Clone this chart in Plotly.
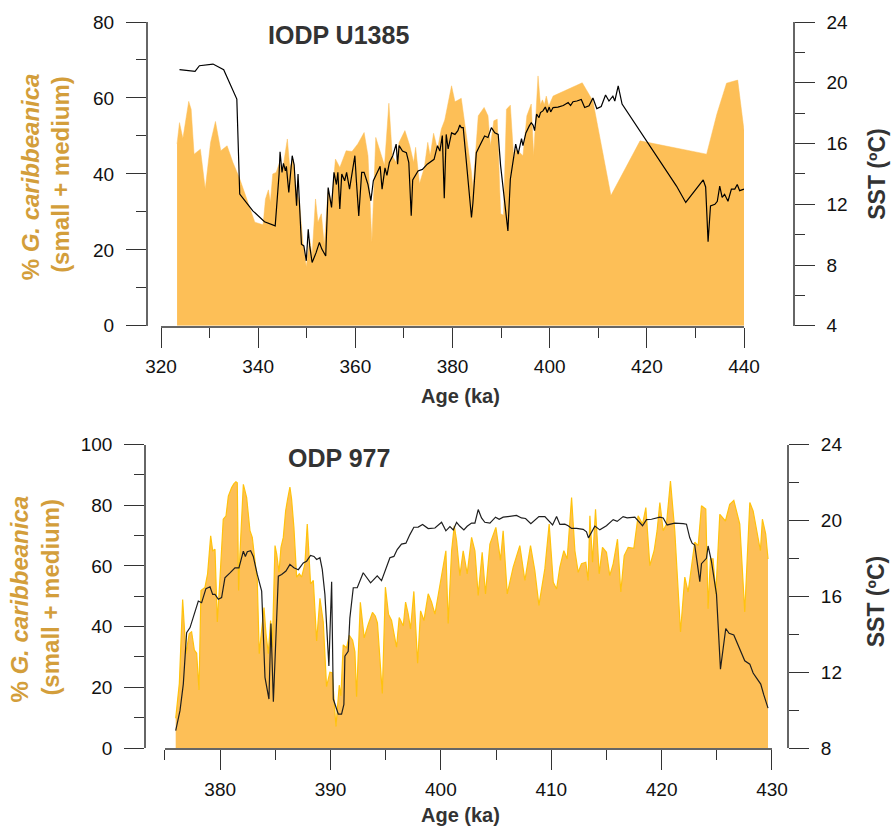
import plotly.graph_objects as go

# ---------------- IODP U1385 ----------------
u1385_gc_age = [323.3, 323.8, 324.5, 325.7, 326.2, 326.8, 328.1, 329.1, 330.2, 331.2, 332.3, 333.6,
                334.8, 336.2, 339.3, 341.0, 341.5, 342.1, 342.5, 343.0, 343.7, 344.4, 344.9, 346.0,
                346.5, 347.2, 347.8, 348.5, 349.2, 349.9, 350.6, 351.1, 351.8, 352.3, 353.0, 353.6,
                354.4, 355.1, 355.9, 356.8, 358.1, 359.3, 360.5, 361.8, 362.6, 363.4, 364.2, 365.3,
                366.0, 366.9, 367.6, 368.4, 369.0, 370.2, 371.2, 372.0, 372.4, 373.2, 374.2, 374.9,
                375.4, 376.1, 376.9, 377.7, 378.4, 379.8, 380.5, 381.8, 382.9, 383.9, 384.2, 385.3,
                386.5, 387.3, 387.8, 388.5, 389.2, 389.9, 390.5, 391.1, 391.9, 392.6, 393.1, 394.5,
                395.3, 396.2, 396.7, 397.6, 398.1, 398.5, 398.9, 399.3, 399.8, 400.7, 406.7, 408.9,
                412.6, 418.6, 432.3, 434.4, 436.4, 438.7, 440.0]
u1385_gc = [47.9, 53.5, 49.3, 59.1, 57.0, 45.2, 46.5, 36.0, 48.3, 53.8, 46.1, 47.4,
            43.0, 38.7, 27.3, 26.6, 33.4, 35.8, 32.5, 40.0, 40.4, 43.0, 40.0, 49.2,
            41.7, 43.9, 36.0, 32.5, 22.0, 15.5, 22.9, 18.5, 33.4, 27.3, 29.5, 21.2,
            36.0, 32.5, 43.9, 41.7, 46.1, 45.9, 47.9, 50.9, 44.8, 22.0, 49.6, 44.8,
            42.2, 58.6, 44.8, 43.0, 48.3, 51.4, 47.4, 43.0, 47.0, 37.4, 41.7, 48.3,
            44.8, 50.7, 46.5, 51.8, 54.2, 63.2, 59.0, 59.9, 50.0, 40.4, 36.0, 55.3,
            57.5, 55.3, 47.4, 54.0, 54.4, 29.5, 29.1, 57.0, 58.1, 44.0, 46.5, 44.8,
            55.3, 58.4, 44.8, 65.8, 58.2, 59.5, 58.2, 60.5, 57.8, 60.5, 64.0, 59.2,
            34.3, 48.7, 45.2, 55.7, 63.9, 64.7, 51.4]

u1385_sst_age = [323.8, 327.0, 327.9, 330.7, 332.9, 335.6, 336.2, 338.9, 341.3, 343.5, 344.3, 344.5,
                 344.9, 345.2, 345.6, 345.8, 346.3, 347.0, 347.4, 347.9, 348.2, 348.9, 349.4, 349.9,
                 350.3, 350.6, 351.1, 351.9, 352.6, 353.1, 353.9, 354.4, 355.1, 355.6, 356.1, 356.4,
                 356.8, 357.2, 357.8, 358.2, 358.8, 359.3, 359.9, 360.2, 360.7, 361.3, 361.8, 362.3,
                 362.6, 363.2, 363.7, 364.5, 365.1, 365.5, 366.1, 366.5, 367.0, 367.7, 368.4, 368.7,
                 369.0, 369.7, 370.5, 371.0, 371.5, 371.8, 372.9, 373.8, 374.8, 376.2, 376.9, 377.4,
                 377.9, 378.3, 378.7, 379.1, 379.8, 380.5, 381.1, 381.5, 381.8, 382.2, 382.7, 383.2,
                 383.9, 384.2, 384.9, 385.6, 386.6, 387.3, 388.0, 388.7, 389.4, 389.9, 390.4, 391.4,
                 391.9, 392.6, 393.0, 393.5, 394.2, 394.5, 395.1, 395.8, 396.2, 396.6, 396.9, 397.3,
                 397.8, 398.1, 398.6, 399.1, 399.5, 399.9, 400.2, 400.7, 401.7, 402.8, 403.8, 404.3,
                 404.8, 405.6, 406.5, 407.2, 408.1, 408.9, 409.7, 410.6, 411.5, 412.2, 413.0, 413.4,
                 414.1, 414.9, 426.1, 428.0, 431.6, 432.1, 432.6, 433.1, 434.0, 434.5, 435.0, 435.5,
                 436.0, 436.7, 437.4, 438.1, 438.6, 439.1, 440.0]
u1385_sst = [20.86, 20.75, 21.12, 21.23, 20.86, 18.93, 12.67, 11.57, 10.85, 10.58, 13.99, 15.46,
             14.10, 14.70, 14.20, 14.50, 12.78, 15.20, 14.60, 11.90, 14.00, 9.37, 9.26, 8.28,
             10.36, 9.26, 8.17, 8.80, 9.49, 9.05, 8.60, 13.10, 11.80, 14.10, 13.30, 14.10,
             11.70, 14.00, 13.55, 14.10, 13.00, 14.10, 15.20, 13.60, 11.24, 14.10, 14.10, 13.60,
             13.30, 12.23, 13.55, 14.10, 14.50, 13.00, 14.40, 13.90, 14.75, 15.20, 15.96, 14.64,
             15.86, 15.50, 15.40, 14.75, 11.24, 13.60, 14.20, 14.30, 14.64, 14.96, 15.86, 15.50,
             16.52, 12.40, 16.60, 15.64, 16.70, 16.60, 16.85, 17.22, 17.05, 17.05, 15.40, 13.87,
             11.13, 12.10, 15.40, 15.86, 16.50, 16.40, 17.05, 16.70, 16.60, 14.53, 13.20, 10.25,
             13.65, 15.20, 15.96, 15.30, 16.33, 15.86, 16.70, 17.16, 17.37, 17.20, 16.85, 17.94,
             17.70, 18.04, 18.15, 18.40, 18.04, 18.40, 18.08, 18.37, 18.40, 18.50, 18.70, 18.50,
             18.75, 18.80, 18.90, 18.37, 18.48, 19.00, 18.30, 18.44, 19.20, 18.80, 19.12, 18.80,
             19.80, 18.60, 13.20, 12.12, 13.60, 13.14, 9.53, 11.90, 12.00, 12.20, 13.20, 12.45,
             12.66, 12.20, 13.00, 13.00, 13.30, 12.90, 13.00]

# ---------------- ODP 977 ----------------
odp977_gc_age = [375.97, 376.30, 376.60, 376.90, 377.20, 377.41, 377.66, 377.87, 378.08, 378.26,
                 378.62, 378.86, 379.14, 379.32, 379.53, 379.74, 379.98, 380.28, 380.53, 380.74,
                 381.04, 381.25, 381.43, 381.55, 381.67, 381.79, 382.10, 382.40, 382.70, 382.91,
                 383.15, 383.36, 383.54, 383.76, 383.97, 384.15, 384.36, 384.57, 384.72, 384.97,
                 385.12, 385.33, 385.51, 385.72, 385.93, 386.11, 386.32, 386.47, 386.68, 386.93,
                 387.17, 387.38, 387.68, 387.89, 388.07, 388.19, 388.44, 388.74, 389.04, 389.34,
                 389.64, 389.94, 390.15, 390.49, 390.79, 390.94, 391.15, 391.45, 391.70, 392.00,
                 392.21, 392.36, 392.70, 393.05, 393.42, 393.80, 394.05, 394.25, 394.69, 394.97,
                 395.25, 395.53, 395.98, 396.22, 396.59, 396.80, 397.04, 397.25, 397.55, 397.89,
                 398.16, 398.46, 398.85, 399.15, 399.46, 399.70, 400.00, 400.21, 400.45, 400.66,
                 400.97, 401.21, 401.42, 401.72, 402.02, 402.38, 402.78, 403.08, 403.38, 403.74,
                 404.04, 404.44, 404.98, 405.40, 405.64, 406.01, 406.55, 407.15, 407.61, 408.12,
                 408.51, 408.88, 409.42, 409.81, 410.18, 410.48, 410.78, 411.14, 411.44, 411.84,
                 412.14, 412.44, 412.74, 413.13, 413.34, 413.50, 413.74, 414.01, 414.34, 414.64,
                 415.00, 415.30, 415.61, 416.00, 416.30, 416.61, 416.97, 417.48, 417.87, 418.27,
                 418.57, 418.93, 419.32, 419.59, 419.84, 420.14, 420.44, 420.80, 421.19, 421.71,
                 422.10, 422.40, 422.70, 423.00, 423.31, 423.61, 424.00, 424.21, 424.42, 424.66,
                 424.91, 425.27, 425.78, 426.17, 426.54, 427.08, 427.53, 427.99, 428.29, 428.59,
                 428.95, 429.13, 429.43, 429.64]
odp977_gc = [9.8, 21.3, 48.9, 31.1, 37.7, 38.3, 32.3, 31.2, 19.1, 51.9,
             52.9, 57.4, 69.9, 65.0, 65.5, 41.5, 55.8, 75.4, 76.5, 83.0,
             85.8, 87.1, 87.7, 87.4, 51.9, 64.0, 86.9, 82.5, 71.6, 69.4,
             61.7, 55.2, 31.1, 39.8, 46.3, 37.7, 31.1, 42.0, 33.2, 66.7,
             63.9, 57.9, 66.1, 69.4, 78.1, 82.0, 86.0, 82.0, 72.7, 56.3,
             57.4, 56.3, 60.7, 73.8, 61.8, 54.1, 55.2, 35.3, 49.3, 41.5,
             20.2, 25.0, 24.8, 7.1, 20.7, 17.2, 34.0, 33.0, 37.1, 35.5,
             31.7, 16.9, 48.0, 36.3, 40.8, 44.7, 43.5, 41.2, 18.0, 53.0,
             44.1, 42.0, 33.2, 43.0, 40.2, 48.1, 44.1, 39.2, 51.6, 27.9,
             45.2, 42.0, 50.8, 48.1, 44.1, 49.5, 56.3, 59.6, 65.0, 41.0,
             65.0, 73.2, 68.3, 56.8, 65.0, 57.4, 69.4, 65.0, 50.3, 64.5,
             50.8, 67.2, 72.7, 61.8, 71.6, 50.8, 59.6, 66.7, 55.2, 66.7,
             58.5, 47.0, 59.1, 73.8, 54.6, 52.4, 59.6, 65.0, 62.3, 82.5,
             65.0, 57.9, 60.7, 61.2, 55.2, 76.5, 61.2, 78.7, 57.4, 66.1,
             64.5, 56.8, 60.7, 68.8, 51.4, 63.4, 66.1, 65.8, 76.5, 73.8,
             79.2, 60.1, 65.0, 71.6, 80.9, 71.6, 73.8, 88.0, 71.6, 38.2,
             56.3, 51.4, 59.1, 67.8, 66.7, 79.8, 78.7, 45.9, 62.3, 62.3,
             50.8, 77.0, 74.8, 80.3, 81.6, 73.8, 44.8, 80.9, 78.1, 71.6,
             65.0, 75.4, 70.5, 62.3]

odp977_sst_age = [375.97, 376.36, 376.66, 376.96, 377.27, 377.66, 378.02, 378.32, 378.71, 379.08,
                  379.32, 379.53, 379.83, 380.13, 380.43, 380.89, 381.34, 381.70, 382.10, 382.28,
                  382.46, 382.76, 383.00, 383.36, 383.76, 384.06, 384.42, 384.60, 384.82, 385.27,
                  385.57, 385.96, 386.32, 386.68, 387.08, 387.53, 387.83, 388.19, 388.50, 388.74,
                  389.04, 389.25, 389.49, 389.85, 390.10, 390.25, 390.70, 391.00, 391.21, 391.30,
                  391.60, 391.75, 392.06, 392.42, 392.96, 393.63, 394.23, 394.62, 395.08, 395.38,
                  395.74, 396.04, 396.43, 396.83, 397.19, 397.55, 397.94, 398.34, 398.85, 399.46,
                  400.06, 400.45, 400.82, 401.12, 401.42, 401.72, 402.08, 402.38, 402.78, 403.08,
                  403.38, 403.68, 403.98, 404.44, 404.95, 405.28, 405.64, 406.25, 406.85, 407.30,
                  407.67, 408.15, 408.51, 408.88, 409.42, 409.81, 410.12, 410.48, 410.78, 411.23,
                  411.53, 411.84, 412.29, 412.89, 413.19, 413.37, 413.65, 413.95, 414.40, 415.00,
                  415.61, 415.97, 416.51, 416.88, 417.57, 417.93, 418.27, 418.63, 419.08, 419.84,
                  420.14, 420.50, 421.19, 421.95, 422.25, 422.55, 422.76, 423.00, 423.46, 423.61,
                  424.06, 424.21, 424.51, 424.97, 425.33, 425.81, 426.11, 426.54, 427.02, 427.53,
                  427.99, 428.29, 428.59, 428.98, 429.25, 429.64]
odp977_sst = [8.92, 9.97, 11.37, 14.08, 14.35, 15.14, 15.75, 15.66, 16.40, 16.50,
              16.10, 16.10, 15.84, 15.93, 16.97, 17.23, 17.50, 17.50, 18.38, 18.10,
              18.35, 18.40, 18.10, 17.15, 16.27, 11.72, 10.58, 14.56, 10.44, 17.06,
              17.15, 17.33, 17.68, 17.50, 17.40, 17.76, 17.85, 18.15, 18.10, 17.94,
              18.03, 17.42, 16.10, 12.33, 16.77, 10.58, 9.79, 9.79, 10.30, 12.84,
              13.10, 14.85, 16.45, 16.45, 17.24, 16.71, 17.08, 16.82, 17.50, 18.03,
              18.10, 18.46, 18.75, 18.80, 19.25, 19.64, 19.65, 19.78, 19.57, 19.60,
              19.90, 19.45, 19.67, 19.50, 19.90, 19.69, 19.50, 19.69, 19.86, 19.86,
              20.57, 20.13, 19.90, 19.86, 20.17, 20.06, 20.17, 20.20, 20.26, 20.13,
              20.10, 19.83, 20.04, 20.20, 20.20, 19.97, 19.76, 20.20, 19.79, 19.80,
              19.72, 19.58, 19.58, 19.53, 19.40, 19.08, 19.40, 19.70, 19.50, 19.72,
              20.04, 19.95, 20.20, 20.13, 20.17, 19.95, 19.72, 20.04, 20.06, 20.17,
              20.13, 19.76, 19.86, 19.83, 19.80, 19.08, 18.80, 18.70, 16.77, 17.72,
              18.00, 18.65, 17.85, 16.10, 12.16, 14.30, 14.05, 13.96, 13.30, 12.60,
              12.42, 11.95, 11.70, 11.37, 10.81, 10.10]

FILL = "#FDBF57"
EDGE = "#FFC20E"
TITLE_GOLD = "#D39E3B"
FONT = "Liberation Sans, Arial, sans-serif"

fig = go.Figure()

fig.add_trace(go.Scatter(x=u1385_gc_age, y=u1385_gc, mode="lines", fill="tozeroy",
                         fillcolor=FILL, line=dict(color=FILL, width=0.5),
                         xaxis="x", yaxis="y", showlegend=False))
fig.add_trace(go.Scatter(x=u1385_sst_age, y=u1385_sst, mode="lines",
                         line=dict(color="#000000", width=1.2),
                         xaxis="x", yaxis="y2", showlegend=False))
fig.add_trace(go.Scatter(x=odp977_gc_age, y=odp977_gc, mode="lines", fill="tozeroy",
                         fillcolor=FILL, line=dict(color=EDGE, width=1.2),
                         xaxis="x2", yaxis="y3", showlegend=False))
fig.add_trace(go.Scatter(x=odp977_sst_age, y=odp977_sst, mode="lines",
                         line=dict(color="#1e1e1e", width=1.2),
                         xaxis="x2", yaxis="y4", showlegend=False))

axis_common = dict(ticks="outside", ticklen=20, tickwidth=1.3, tickcolor="#333333",
                   showline=True, linecolor="#666666", linewidth=1.5,
                   showgrid=False, zeroline=False,
                   tickfont=dict(family=FONT, size=19, color="#111111"))
y_common = dict(axis_common, ticklabelstandoff=8)
x_common = dict(axis_common, ticklabelstandoff=3)


def minor(d, t0=None):
    m = dict(ticks="outside", ticklen=10, tickwidth=1.3, tickcolor="#333333",
             dtick=d, showgrid=False)
    if t0 is not None:
        m["tick0"] = t0
    return m


fig.update_layout(
    width=893, height=831,
    margin=dict(l=145, r=99, t=19, b=83),
    paper_bgcolor="white", plot_bgcolor="white",
    font=dict(family=FONT, size=19, color="#111111"),
    xaxis=dict(domain=[0.0247, 0.923], range=[320, 440], anchor="y",
               tick0=320, dtick=20, minor=minor(10), **x_common),
    yaxis=dict(domain=[0.5815, 1.0], range=[0, 80], anchor="free", position=0.0026,
               side="left", tick0=0, dtick=20, minor=minor(10), **y_common),
    yaxis2=dict(range=[4, 24], overlaying="y", anchor="free", position=1.0, side="right",
                tick0=4, dtick=4, minor=minor(2), **y_common),
    xaxis2=dict(domain=[0.0308, 0.9661], range=[375, 430], anchor="y3",
                tick0=380, dtick=10, minor=minor(5, 375), **x_common),
    yaxis3=dict(domain=[0.0, 0.418], range=[0, 100], anchor="free", position=0.0,
                side="left", tick0=0, dtick=20, minor=minor(10), **y_common),
    yaxis4=dict(range=[8, 24], overlaying="y3", anchor="free", position=0.9912, side="right",
                tick0=8, dtick=4, minor=minor(2), **y_common),
)


def px_x(px):
    return (px - 145) / 649


def px_y(py):
    return (748 - py) / 729


notes = [
    # panel titles
    dict(text="<b>IODP U1385</b>", x=px_x(338.5), y=px_y(31.7), size=25, color="#333333", angle=0),
    dict(text="<b>ODP 977</b>", x=px_x(338.5), y=px_y(457.3), size=25, color="#333333", angle=0),
    # x-axis titles
    dict(text="<b>Age (ka)</b>", x=px_x(460), y=px_y(395), size=20, color="#333333", angle=0),
    dict(text="<b>Age (ka)</b>", x=px_x(460), y=px_y(815), size=20, color="#333333", angle=0),
    # left axis titles
    dict(text="<b>% <i>G. caribbeanica</i></b>", x=px_x(30), y=px_y(175), size=24, color=TITLE_GOLD, angle=-90),
    dict(text="<b>(small + medium)</b>", x=px_x(61), y=px_y(172.5), size=24, color=TITLE_GOLD, angle=-90),
    dict(text="<b>% <i>G. caribbeanica</i></b>", x=px_x(19.5), y=px_y(598.5), size=24, color=TITLE_GOLD, angle=-90),
    dict(text="<b>(small + medium)</b>", x=px_x(50.5), y=px_y(596.5), size=24, color=TITLE_GOLD, angle=-90),
    # right axis titles
    dict(text="<b>SST (ºC)</b>", x=px_x(876.7), y=px_y(171.7), size=23, color="#333333", angle=-90),
    dict(text="<b>SST (ºC)</b>", x=px_x(876), y=px_y(601.7), size=23, color="#333333", angle=-90),
]
for n in notes:
    fig.add_annotation(text=n["text"], x=n["x"], y=n["y"], xref="paper", yref="paper",
                       xanchor="center", yanchor="middle", showarrow=False,
                       textangle=n["angle"],
                       font=dict(family=FONT, size=n["size"], color=n["color"]))

fig.write_html("out.html")
